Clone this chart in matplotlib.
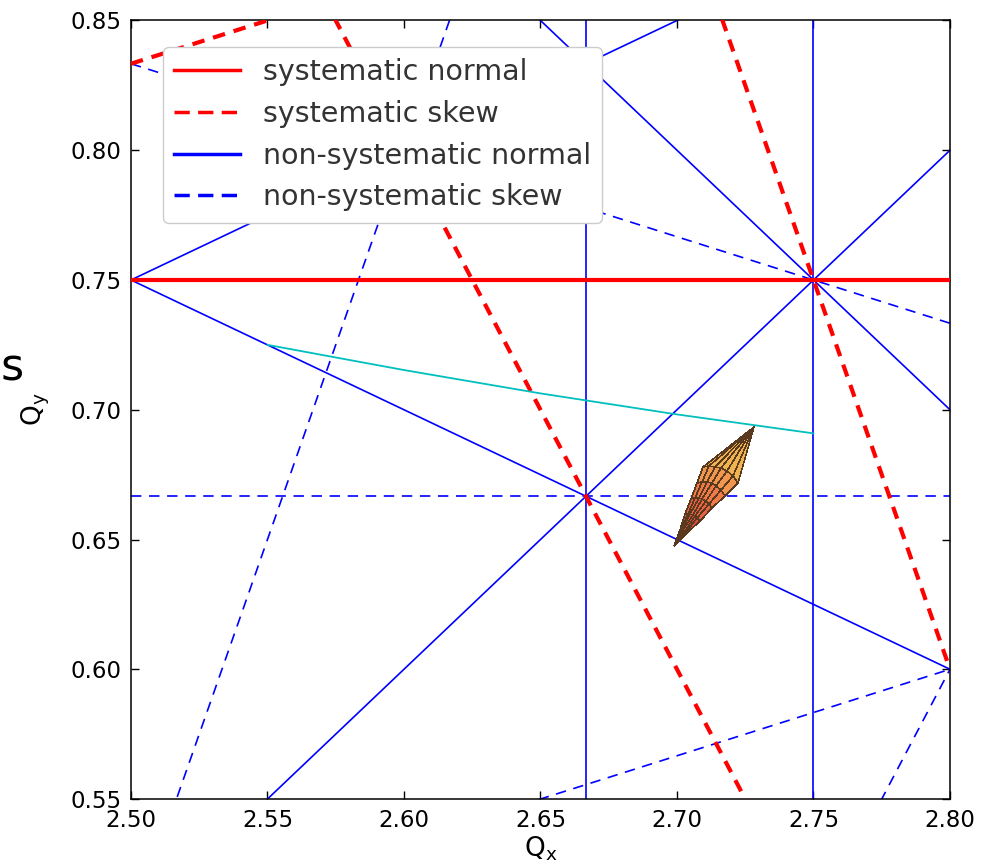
import numpy as np
import matplotlib
matplotlib.use('Agg')
import matplotlib.pyplot as plt
from matplotlib.lines import Line2D
from matplotlib.colors import ListedColormap
from matplotlib.ticker import FormatStrFormatter

plt.rcParams['font.family'] = ['DejaVu Sans']
plt.rcParams['mathtext.default'] = 'regular'
plt.rcParams['lines.scale_dashes'] = False

# resonance lines m*Qx + n*Qy = p
sys_normal = [(0, 4, 3)]
sys_skew = [(2, 1, 6), (3, 1, 9), (1, -3, 0)]
nonsys_normal = [(3, 0, 8), (4, 0, 11), (2, -2, 4), (1, 2, 4), (1, -2, 1), (2, 2, 7)]
nonsys_skew = [(0, 3, 2), (2, -1, 5), (3, -1, 7), (1, 3, 5), (1, -3, 1)]

# working point path (cyan)
path_qx = [2.55, 2.60, 2.65, 2.70, 2.75]
path_qy = [0.7250, 0.7153, 0.7063, 0.6982, 0.6909]

# tune footprint mesh nodes (rows from bottom tip to top tip)
fp_qx = [
    [2.6989, 2.6989, 2.6989, 2.6989, 2.6989, 2.6989, 2.6989],
    [2.7010, 2.7015, 2.7019, 2.7023, 2.7028, 2.7032, 2.7036],
    [2.7031, 2.7040, 2.7049, 2.7058, 2.7067, 2.7075, 2.7083],
    [2.7053, 2.7066, 2.7079, 2.7092, 2.7105, 2.7119, 2.7129],
    [2.7074, 2.7091, 2.7109, 2.7127, 2.7144, 2.7162, 2.7176],
    [2.7095, 2.7117, 2.7139, 2.7161, 2.7183, 2.7205, 2.7223],
    [2.7282, 2.7282, 2.7282, 2.7282, 2.7282, 2.7282, 2.7282],
]
fp_qy = [
    [0.6475, 0.6475, 0.6475, 0.6475, 0.6475, 0.6475, 0.6475],
    [0.6536, 0.6537, 0.6536, 0.6535, 0.6533, 0.6529, 0.6524],
    [0.6597, 0.6598, 0.6597, 0.6595, 0.6591, 0.6583, 0.6572],
    [0.6657, 0.6660, 0.6659, 0.6656, 0.6648, 0.6637, 0.6621],
    [0.6718, 0.6721, 0.6720, 0.6716, 0.6706, 0.6691, 0.6669],
    [0.6779, 0.6783, 0.6781, 0.6776, 0.6764, 0.6745, 0.6718],
    [0.6934, 0.6934, 0.6934, 0.6934, 0.6934, 0.6934, 0.6934],
]
fp_level = [
    [0, 0, 0, 0, 0, 0],
    [1, 1, 1, 1, 1, 1],
    [2, 2, 2, 2, 2, 2],
    [3, 3, 3, 3, 3, 3],
    [4, 4, 4, 4, 4, 4],
    [5, 5, 5, 5, 5, 5],
]
fp_colors = ['#c94236', '#e04c3e', '#ea6244', '#ef7a48', '#f1964e', '#f0b352']

xmin, xmax = 2.5, 2.8
ymin, ymax = 0.55, 0.85


def draw_res(ax, lines, color, lw, dashes, z):
    for m, n, p in lines:
        kw = {'dashes': dashes} if dashes else {}
        if n == 0:
            ax.plot([p / m, p / m], [ymin, ymax], color=color, lw=lw, zorder=z, **kw)
        else:
            xs = np.array([xmin, xmax])
            ys = (p - m * xs) / n
            ax.plot(xs, ys, color=color, lw=lw, zorder=z, **kw)


fig = plt.figure(figsize=(9.81, 8.64), dpi=100)
ax = fig.add_axes([0.1335, 0.0752, 0.8349, 0.9011])

draw_res(ax, nonsys_normal, 'b', 1.2, None, 2)
draw_res(ax, nonsys_skew, 'b', 1.2, (7.5, 5.5), 2)
draw_res(ax, sys_normal, 'r', 3, None, 3)
draw_res(ax, sys_skew, 'r', 3, (9, 6.5), 3)

ax.plot(path_qx, path_qy, color='c', lw=1.3, zorder=4)

ax.pcolormesh(np.array(fp_qx), np.array(fp_qy), np.array(fp_level),
              cmap=ListedColormap(fp_colors), vmin=-0.5, vmax=5.5,
              edgecolors='#5a3a1e', linewidth=0.35, shading='flat', zorder=5)

ax.set_xlim(xmin, xmax)
ax.set_ylim(ymin, ymax)
ax.set_xticks(np.arange(2.50, 2.801, 0.05))
ax.set_yticks(np.arange(0.55, 0.851, 0.05))
ax.xaxis.set_major_formatter(FormatStrFormatter('%.2f'))
ax.yaxis.set_major_formatter(FormatStrFormatter('%.2f'))
ax.tick_params(direction='in', top=True, right=True, length=6, width=1,
               labelsize=16.5, pad=7)
for s in ax.spines.values():
    s.set_linewidth(1.1)

ax.set_xlabel('$Q_x$', fontsize=19)
ax.set_ylabel('$Q_y$', fontsize=19)
ax.xaxis.set_label_coords(0.5, -0.045)
ax.yaxis.set_label_coords(-0.097, 0.5)

handles = [
    Line2D([], [], color='r', lw=2.5),
    Line2D([], [], color='r', lw=2.5, dashes=(11, 6)),
    Line2D([], [], color='b', lw=2.5),
    Line2D([], [], color='b', lw=2.5, dashes=(11, 6)),
]
labels = ['systematic normal', 'systematic skew',
          'non-systematic normal', 'non-systematic skew']
leg = ax.legend(handles, labels, loc='upper left', bbox_to_anchor=(0.039, 0.966),
                borderaxespad=0, fontsize=20.5, handlelength=2.3, handletextpad=0.8,
                labelspacing=0.48, fancybox=True, framealpha=1, edgecolor='#cccccc')
leg.set_zorder(10)
for t in leg.get_texts():
    t.set_color('#333333')

fig.text(0.001, 0.560, 's', fontsize=32, ha='left', va='baseline')

fig.savefig('out.png', dpi=100)
